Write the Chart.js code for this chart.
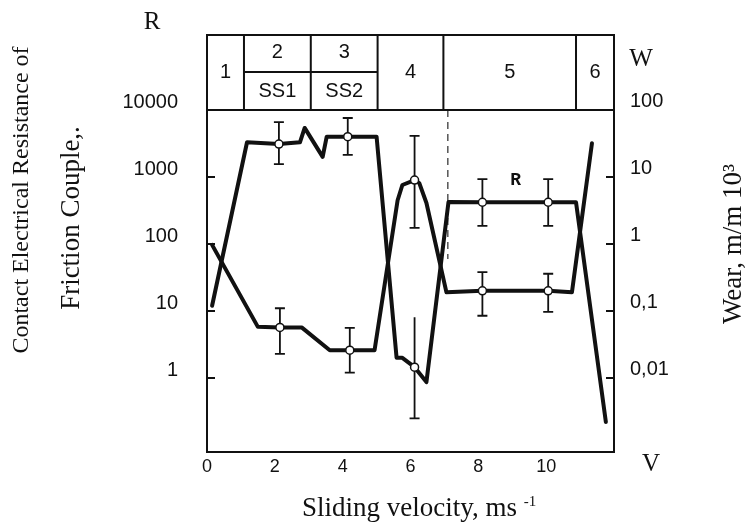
<!DOCTYPE html>
<html>
<head>
<meta charset="utf-8">
<script src="https://cdn.jsdelivr.net/npm/chart.js@4.4.0/dist/chart.umd.min.js"></script>
<style>
    html, body { margin: 0; padding: 0; background: #fff; }
    #wrap { position: relative; width: 747px; height: 524px; }
</style>
</head>
<body>
<div id="wrap"><canvas id="frictionChart"></canvas></div>
<script>
// Contact resistance R (left axis) vs sliding velocity
const rVelocity = [0.15, 1.18, 2.12, 2.74, 2.88, 3.41, 3.53, 4.15, 5.0, 5.59, 5.76, 6.12, 6.47, 7.12, 8.12, 10.06, 10.88, 11.76];
const rValues   = [12, 3300, 3100, 3300, 5400, 2000, 4000, 4000, 4000, 2.0, 2.0, 1.45, 0.87, 425, 420, 420, 420, 0.22];

// Wear W (right axis) vs sliding velocity
const wVelocity = [0.15, 1.5, 2.15, 2.79, 3.62, 4.21, 4.94, 5.62, 5.76, 6.12, 6.26, 6.47, 7.06, 8.12, 10.06, 10.76, 11.35];
const wValues   = [0.97, 0.058, 0.057, 0.057, 0.026, 0.026, 0.026, 4.5, 7.6, 9.0, 8.1, 4.1, 0.19, 0.2, 0.2, 0.19, 32];

// Measured points with scatter
const rPointV   = [2.12, 4.15, 6.12, 8.12, 10.06];
const rPointVal = [3100, 4000, 1.45, 420, 420];
const rErrHigh  = [6600, 7600, 8.1, 930, 930];
const rErrLow   = [1560, 2140, 0.25, 186, 186];
const rErrCap   = [true, true, false, true, true];

const wPointV   = [2.15, 4.21, 6.12, 8.12, 10.06];
const wPointVal = [0.057, 0.026, 9.0, 0.2, 0.2];
const wErrHigh  = [0.11, 0.056, 41, 0.38, 0.36];
const wErrLow   = [0.023, 0.012, 1.74, 0.085, 0.097];
const wErrCap   = [true, true, true, true, true];

// Dashed guide at the 4/5 boundary
const guideV = [7.1, 7.1];
const guideR = [10000, 60];

// Friction regimes in the header
const zoneEdges     = [0, 1.09, 3.06, 5.03, 6.97, 10.88, 12];
const zoneNumbers   = ['1', '2', '3', '4', '5', '6'];
const zoneSubLabels = ['', 'SS1', 'SS2', '', '', ''];

// Axis ticks
const xTicks = [0, 2, 4, 6, 8, 10];
const rTicks = [1, 10, 100, 1000, 10000];
const wTicks = [0.01, 0.1, 1, 10, 100];

// Curve label
const curveLabelV = 9.1;
const curveLabelR = 900;

const INK = '#111';

function toPoints(xs, ys) {
    return xs.map((x, i) => ({ x: x, y: ys[i] }));
}

function drawErrorBars(ctx, xScale, yScale, xs, hi, lo, caps) {
    ctx.save();
    ctx.strokeStyle = INK;
    ctx.lineWidth = 1.8;
    xs.forEach((v, i) => {
        const px = xScale.getPixelForValue(v);
        const top = yScale.getPixelForValue(hi[i]);
        const bot = yScale.getPixelForValue(lo[i]);
        ctx.beginPath();
        ctx.moveTo(px, top);
        ctx.lineTo(px, bot);
        if (caps[i]) {
            ctx.moveTo(px - 5, top);
            ctx.lineTo(px + 5, top);
        }
        ctx.moveTo(px - 5, bot);
        ctx.lineTo(px + 5, bot);
        ctx.stroke();
    });
    ctx.restore();
}

function rotatedText(ctx, text, x, y) {
    ctx.save();
    ctx.translate(x, y);
    ctx.rotate(-Math.PI / 2);
    ctx.fillText(text, 0, 0);
    ctx.restore();
}

const framePlugin = {
    id: 'frameAndNotes',
    beforeDatasetsDraw(chart) {
        const { ctx, scales } = chart;
        drawErrorBars(ctx, scales.x, scales.y, rPointV, rErrHigh, rErrLow, rErrCap);
        drawErrorBars(ctx, scales.x, scales.y2, wPointV, wErrHigh, wErrLow, wErrCap);
    },
    afterDraw(chart) {
        const { ctx, chartArea, scales } = chart;
        const left = chartArea.left, right = chartArea.right;
        const top = chartArea.top, bottom = chartArea.bottom;
        const headTop = top - 75;
        const headMid = top - 38;

        ctx.save();
        ctx.strokeStyle = INK;
        ctx.lineWidth = 2;

        // outer frame and header box
        ctx.strokeRect(left, headTop, right - left, bottom - headTop);
        ctx.beginPath();
        ctx.moveTo(left, top);
        ctx.lineTo(right, top);
        zoneEdges.slice(1, -1).forEach(v => {
            const px = scales.x.getPixelForValue(v);
            ctx.moveTo(px, headTop);
            ctx.lineTo(px, top);
        });
        ctx.moveTo(scales.x.getPixelForValue(zoneEdges[1]), headMid);
        ctx.lineTo(scales.x.getPixelForValue(zoneEdges[3]), headMid);
        ctx.stroke();

        // inward tick marks
        ctx.lineWidth = 1.8;
        ctx.beginPath();
        rTicks.forEach(v => {
            const py = scales.y.getPixelForValue(v);
            ctx.moveTo(left, py);
            ctx.lineTo(left + 8, py);
        });
        wTicks.forEach(v => {
            const py = scales.y2.getPixelForValue(v);
            ctx.moveTo(right, py);
            ctx.lineTo(right - 8, py);
        });
        ctx.stroke();

        // header labels
        ctx.fillStyle = INK;
        ctx.textAlign = 'center';
        ctx.textBaseline = 'middle';
        ctx.font = '20px "Liberation Sans"';
        zoneNumbers.forEach((label, i) => {
            const cx = (scales.x.getPixelForValue(zoneEdges[i]) + scales.x.getPixelForValue(zoneEdges[i + 1])) / 2;
            if (zoneSubLabels[i]) {
                ctx.fillText(label, cx, headTop + 17);
                ctx.fillText(zoneSubLabels[i], cx, headMid + 19);
            } else {
                ctx.fillText(label, cx, headMid);
            }
        });

        // curve label inside the plot
        ctx.font = 'bold 18px "Liberation Mono"';
        ctx.fillText('R', scales.x.getPixelForValue(curveLabelV), scales.y.getPixelForValue(curveLabelR));

        // axis letters
        ctx.font = '25px "Liberation Serif"';
        ctx.fillText('R', left - 55, headTop - 13);
        ctx.fillText('W', right + 27, headTop + 24);
        ctx.fillText('V', right + 37, bottom + 12);

        // axis titles
        ctx.font = '24px "Liberation Serif"';
        rotatedText(ctx, 'Contact Electrical Resistance of', 22, 200);
        ctx.font = '27px "Liberation Serif"';
        rotatedText(ctx, 'Friction Couple,.', 72, 218);
        rotatedText(ctx, 'Wear, m/m 10\u00B3', 734, 244);

        ctx.textAlign = 'left';
        ctx.textBaseline = 'alphabetic';
        const xTitle = 'Sliding velocity, ms ';
        ctx.fillText(xTitle, 302, 516);
        const w = ctx.measureText(xTitle).width;
        ctx.font = '15px "Liberation Serif"';
        ctx.fillText('-1', 302 + w, 506);

        ctx.restore();
    }
};

function fixedWidth(w) {
    return function (scale) { scale.width = w; };
}

new Chart(document.getElementById('frictionChart'), {
    type: 'line',
    data: {
        datasets: [{
            label: 'R points',
            data: toPoints(rPointV, rPointVal),
            yAxisID: 'y',
            showLine: false,
            pointRadius: 4,
            pointBackgroundColor: '#fff',
            pointBorderColor: INK,
            pointBorderWidth: 1.5
        }, {
            label: 'W points',
            data: toPoints(wPointV, wPointVal),
            yAxisID: 'y2',
            showLine: false,
            pointRadius: 4,
            pointBackgroundColor: '#fff',
            pointBorderColor: INK,
            pointBorderWidth: 1.5
        }, {
            label: 'R',
            data: toPoints(rVelocity, rValues),
            yAxisID: 'y',
            borderColor: INK,
            borderWidth: 4,
            borderJoinStyle: 'round',
            borderCapStyle: 'round',
            pointRadius: 0,
            tension: 0
        }, {
            label: 'W',
            data: toPoints(wVelocity, wValues),
            yAxisID: 'y2',
            borderColor: INK,
            borderWidth: 4,
            borderJoinStyle: 'round',
            borderCapStyle: 'round',
            pointRadius: 0,
            tension: 0
        }, {
            label: 'guide',
            data: toPoints(guideV, guideR),
            yAxisID: 'y',
            borderColor: '#555',
            borderWidth: 1.5,
            borderDash: [7, 5],
            pointRadius: 0
        }]
    },
    options: {
        responsive: true,
        maintainAspectRatio: false,
        animation: false,
        layout: { padding: { top: 110, left: 0, right: 0, bottom: 0 } },
        plugins: {
            legend: { display: false },
            tooltip: { enabled: false }
        },
        scales: {
            x: {
                type: 'linear',
                min: 0,
                max: 12,
                bounds: 'data',
                grid: { display: false, drawTicks: false },
                border: { display: false },
                afterBuildTicks: scale => { scale.ticks = xTicks.map(v => ({ value: v })); },
                afterFit: scale => { scale.height = 72; },
                ticks: {
                    color: INK,
                    padding: 4,
                    maxRotation: 0,
                    font: { family: 'Liberation Sans', size: 18 },
                    callback: v => String(v)
                }
            },
            y: {
                type: 'logarithmic',
                position: 'left',
                min: 0.0787,
                max: 10000,
                bounds: 'data',
                grid: { display: false, drawTicks: false },
                border: { display: false },
                afterBuildTicks: scale => { scale.ticks = rTicks.map(v => ({ value: v })); },
                afterFit: fixedWidth(207),
                ticks: {
                    color: INK,
                    padding: 29,
                    labelOffset: -8,
                    font: { family: 'Liberation Sans', size: 20 },
                    callback: v => String(v)
                }
            },
            y2: {
                type: 'logarithmic',
                position: 'right',
                min: 0.000787,
                max: 100,
                bounds: 'data',
                grid: { display: false, drawTicks: false },
                border: { display: false },
                afterBuildTicks: scale => { scale.ticks = wTicks.map(v => ({ value: v })); },
                afterFit: fixedWidth(133),
                ticks: {
                    color: INK,
                    padding: 16,
                    labelOffset: -9,
                    font: { family: 'Liberation Sans', size: 20 },
                    callback: v => String(v).replace('.', ',')
                }
            }
        }
    },
    plugins: [framePlugin]
});
</script>
</body>
</html>
